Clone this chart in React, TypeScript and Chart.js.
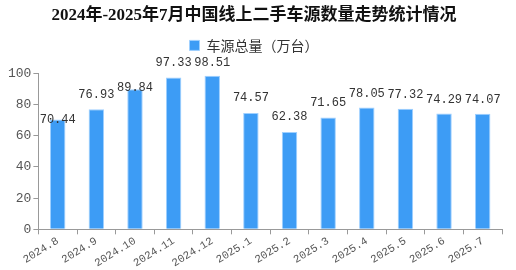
import React, { useEffect, useRef } from "react";
import { Chart, registerables, layouts } from "chart.js";

Chart.register(...registerables);

const titleText = "2024年-2025年7月中国线上二手车源数量走势统计情况";
const seriesName = "车源总量（万台）";
const categories = ["2024.8", "2024.9", "2024.10", "2024.11", "2024.12", "2025.1", "2025.2", "2025.3", "2025.4", "2025.5", "2025.6", "2025.7"];
const values = [70.44, 76.93, 89.84, 97.33, 98.51, 74.57, 62.38, 71.65, 78.05, 77.32, 74.29, 74.07];
const labelLift = [0, 15, 1, 15, 13, 15, 15, 15, 14, 14, 14, 14];
const yTicks = [0, 20, 40, 60, 80, 100];

const labelPlugin = {
  id: "barLabels",
  afterDatasetsDraw(chart: any) {
    const ctx = chart.ctx;
    const meta = chart.getDatasetMeta(0);
    ctx.save();
    ctx.font = "12px 'Liberation Mono', monospace";
    ctx.fillStyle = "#333";
    ctx.textAlign = "center";
    ctx.textBaseline = "middle";
    meta.data.forEach((bar: any, i: number) => {
      ctx.fillText(values[i].toFixed(2), bar.x, bar.y - labelLift[i]);
    });
    ctx.restore();
  },
};

const spacerPlugin = {
  id: "legendSpacer",
  beforeInit(chart: any) {
    const box: any = {
      position: "top",
      weight: 500,
      fullSize: true,
      options: { stackWeight: 1 },
      top: 0,
      left: 0,
      right: 0,
      bottom: 0,
      width: 0,
      height: 0,
      isHorizontal() {
        return true;
      },
      update(maxWidth: number) {
        this.width = maxWidth;
        this.height = 11;
      },
      draw() {},
    };
    layouts.addBox(chart, box);
  },
};

export default function App() {
  const ref = useRef<HTMLCanvasElement | null>(null);
  useEffect(() => {
    document.body.style.margin = "0";
    const chart = new Chart(ref.current!, {
      type: "bar",
      data: {
        labels: categories,
        datasets: [
          {
            label: seriesName,
            data: values,
            backgroundColor: "#3d9cf5",
            borderColor: "#9fd0ff",
            borderWidth: 1,
            barPercentage: 0.4,
            categoryPercentage: 1,
          },
        ],
      },
      options: {
        responsive: false,
        animation: false,
        layout: { padding: { left: 6, right: 14, top: 2, bottom: 0 } },
        plugins: {
          title: {
            display: true,
            text: titleText,
            color: "#111",
            font: { family: "'Liberation Serif', 'Noto Sans CJK SC', serif", size: 17, weight: "bold" },
            padding: { top: 3, bottom: -3 },
          },
          legend: {
            display: true,
            labels: {
              boxWidth: 10,
              boxHeight: 10,
              color: "#333",
              font: { family: "'Noto Sans CJK SC', sans-serif", size: 14 },
              padding: 16,
            },
          },
          tooltip: { enabled: false },
        },
        scales: {
          x: {
            grid: { display: true, drawOnChartArea: false, offset: true, tickLength: 5, color: "#999" },
            border: { color: "#999" },
            ticks: {
              minRotation: 32,
              maxRotation: 32,
              color: "#555",
              font: { family: "'Liberation Mono', monospace", size: 11 },
              padding: 0,
            },
          },
          y: {
            min: 0,
            max: 100,
            afterBuildTicks: (axis: any) => {
              axis.ticks = yTicks.map((v) => ({ value: v }));
            },
            grid: { display: true, drawOnChartArea: false, tickLength: 5, color: "#999" },
            border: { color: "#999" },
            ticks: {
              color: "#555",
              font: { family: "'Liberation Mono', monospace", size: 13 },
              padding: 2,
            },
          },
        },
      },
      plugins: [labelPlugin, spacerPlugin],
    });
    return () => chart.destroy();
  }, []);
  return (
    <div style={{ width: 516, height: 270 }}>
      <canvas ref={ref} width={516} height={270} style={{ display: "block" }} />
    </div>
  );
}
